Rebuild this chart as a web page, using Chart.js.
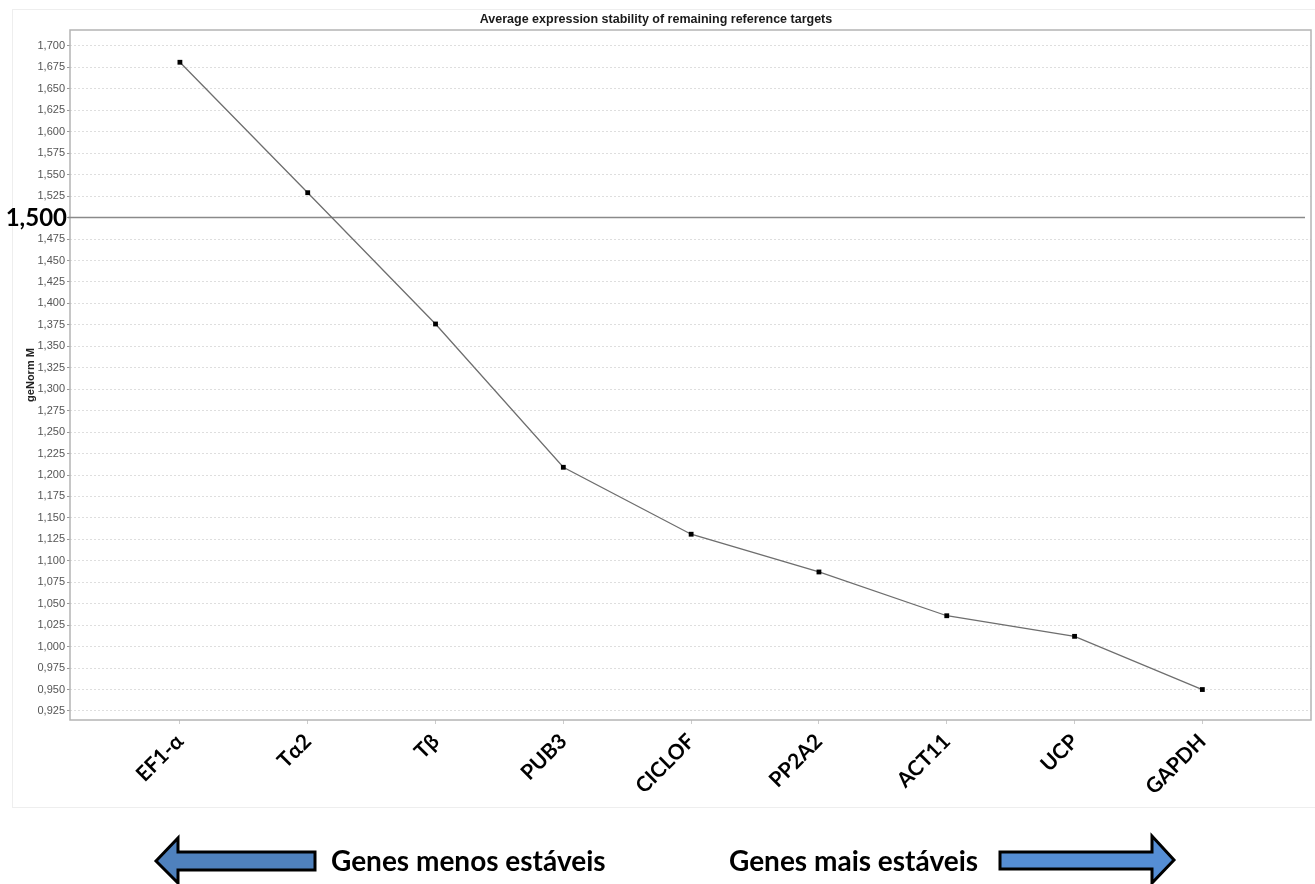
<!DOCTYPE html>
<html>
<head>
<meta charset="utf-8">
<script src="https://cdn.jsdelivr.net/npm/chart.js@4/dist/chart.umd.min.js"></script>
<style>
  html, body { margin: 0; padding: 0; background: #fff; }
  #wrap { width: 1315px; height: 884px; }
</style>
</head>
<body>
<div id="wrap"><canvas id="genorm"></canvas></div>
<script>
// genes ordered from least to most stable, with their geNorm M value
const genes = ['EF1-α', 'Tα2', 'Tβ', 'PUB3', 'CICLOF', 'PP2A2', 'ACT11', 'UCP', 'GAPDH'];
const mValues = [1.681, 1.529, 1.376, 1.209, 1.131, 1.087, 1.036, 1.012, 0.950];
const yTicks = [];
for (let i = 0; i <= 31; i++) yTicks.push(Math.round((0.925 + i * 0.025) * 1000) / 1000);
const threshold = 1.5;
const thresholdLabel = '1,500';
const lessStable = 'Genes menos estáveis';
const moreStable = 'Genes mais estáveis';

const fmt = v => v.toFixed(3).replace('.', ',');

// faint outer frame, plot border and the 1,500 cutoff
const framePlugin = {
  id: 'frame',
  beforeDraw(chart) {
    const ctx = chart.ctx;
    ctx.save();
    ctx.strokeStyle = '#eeeeee';
    ctx.lineWidth = 1;
    ctx.strokeRect(12.5, 9.5, 1310, 798);
    ctx.restore();
  },
  beforeDatasetsDraw(chart) {
    const a = chart.chartArea, ctx = chart.ctx;
    ctx.save();
    ctx.strokeStyle = '#b4b4b4';
    ctx.lineWidth = 1.5;
    ctx.strokeRect(a.left, a.top, a.right - a.left, a.bottom - a.top);
    const y = chart.scales.y.getPixelForValue(threshold);
    ctx.strokeStyle = '#8a8a8a';
    ctx.lineWidth = 1.5;
    ctx.beginPath();
    ctx.moveTo(a.left - 2, y);
    ctx.lineTo(a.right - 6, y);
    ctx.stroke();
    ctx.fillStyle = '#000';
    ctx.font = 'bold 24px Lato, "Open Sans", sans-serif';
    ctx.textAlign = 'right';
    ctx.textBaseline = 'middle';
    ctx.fillText(thresholdLabel, a.left - 3, y + 1);
    ctx.restore();
  }
};

function arrow(ctx, pts, fill) {
  ctx.beginPath();
  ctx.moveTo(pts[0][0], pts[0][1]);
  for (let i = 1; i < pts.length; i++) ctx.lineTo(pts[i][0], pts[i][1]);
  ctx.closePath();
  ctx.fillStyle = fill;
  ctx.fill();
  ctx.lineWidth = 3;
  ctx.lineJoin = 'miter';
  ctx.strokeStyle = '#000';
  ctx.stroke();
}

const arrowsPlugin = {
  id: 'arrows',
  afterDraw(chart) {
    const ctx = chart.ctx;
    ctx.save();
    arrow(ctx, [[156, 861], [178, 838], [178, 852], [315, 852], [315, 870], [178, 870], [178, 883]], '#4f81bd');
    arrow(ctx, [[1000, 852], [1152, 852], [1152, 836], [1174, 860], [1152, 883], [1152, 869], [1000, 869]], '#558ed5');
    ctx.fillStyle = '#000';
    ctx.font = 'bold 28px Lato, "Open Sans", sans-serif';
    ctx.textAlign = 'left';
    ctx.textBaseline = 'alphabetic';
    ctx.fillText(lessStable, 331, 871, 280);
    ctx.fillText(moreStable, 729, 871, 258);
    ctx.restore();
  }
};

new Chart(document.getElementById('genorm'), {
  type: 'line',
  data: {
    datasets: [{
      label: 'geNorm M',
      data: mValues.map((v, i) => ({ x: i, y: v })),
      borderColor: '#6e6e6e',
      borderWidth: 1.3,
      tension: 0,
      pointStyle: 'rect',
      pointRadius: 3.4,
      pointBackgroundColor: '#000',
      pointBorderColor: '#000',
      pointBorderWidth: 0
    }]
  },
  options: {
    responsive: true,
    maintainAspectRatio: false,
    animation: false,
    layout: { padding: { top: 0, left: 0, right: 3, bottom: 0 } },
    plugins: {
      legend: { display: false },
      tooltip: { enabled: false },
      title: {
        display: true,
        text: 'Average expression stability of remaining reference targets',
        color: '#1a1a1a',
        font: { family: '"Liberation Sans", Arial, sans-serif', size: 12.5, weight: 'bold' },
        padding: { top: 12, bottom: 3 }
      }
    },
    scales: {
      x: {
        type: 'linear',
        min: -0.86,
        max: 8.85,
        afterBuildTicks: s => { s.ticks = genes.map((_, i) => ({ value: i })); },
        afterFit: s => { s.height = 164; },
        ticks: {
          autoSkip: false,
          minRotation: 45,
          maxRotation: 45,
          padding: 5,
          color: '#000',
          font: { family: 'Lato, "Open Sans", sans-serif', size: 21, weight: 'bold' },
          callback: v => genes[v] ?? ''
        },
        grid: { display: true, drawOnChartArea: false, tickLength: 4, color: '#cccccc' },
        border: { display: false }
      },
      y: {
        min: 0.9145,
        max: 1.7186,
        afterBuildTicks: s => { s.ticks = yTicks.map(v => ({ value: v })); },
        afterFit: s => { s.width = 70; },
        ticks: {
          autoSkip: false,
          padding: 2,
          color: '#555',
          font: { family: '"Liberation Sans", Arial, sans-serif', size: 11 },
          callback: v => (Math.abs(v - threshold) < 1e-6 ? '' : fmt(v))
        },
        grid: {
          color: ctx => (ctx.tick && Math.abs(ctx.tick.value - threshold) < 1e-6 ? 'rgba(0,0,0,0)' : '#dedede'),
          tickColor: '#999',
          tickLength: 3,
          lineWidth: 1
        },
        border: { display: false, dash: [2, 2] },
        title: {
          display: true,
          text: 'geNorm M',
          color: '#222',
          font: { family: '"Liberation Sans", Arial, sans-serif', size: 11, weight: 'bold' },
          padding: { top: 24, bottom: 0 }
        }
      }
    }
  },
  plugins: [framePlugin, arrowsPlugin]
});
</script>
</body>
</html>
